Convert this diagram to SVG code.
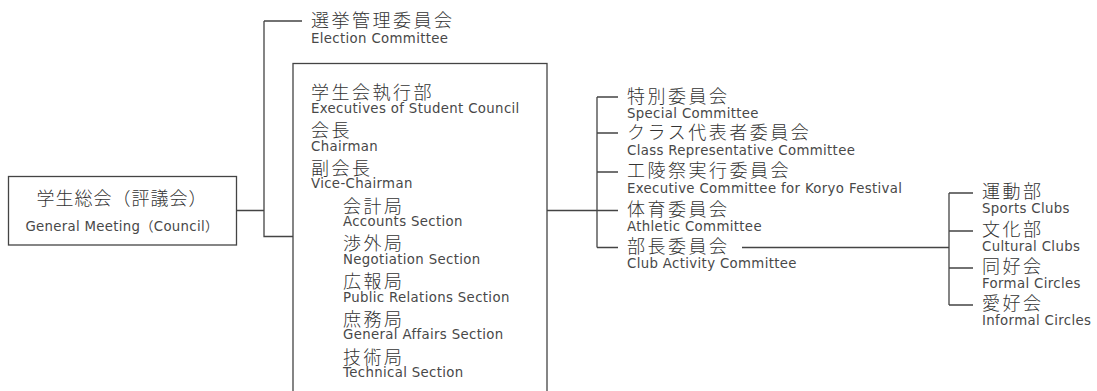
<svg xmlns="http://www.w3.org/2000/svg" width="1097" height="391" viewBox="0 0 1097 391">
<style>
.ln{fill:none;stroke:#444;stroke-width:1.3}
.jp{font-family:"Noto Sans CJK JP","Liberation Sans",sans-serif;font-size:18px;font-weight:300;fill:#333;letter-spacing:2.5px}
.en{font-family:"DejaVu Sans","Noto Sans CJK JP",sans-serif;font-size:13.3px;fill:#484848;letter-spacing:0.35px}
.box{fill:#fff;stroke:#444;stroke-width:1.3}
</style>
<rect width="1097" height="391" fill="#fff"/>
<g id="connectors" class="ln">
<path d="M236 210.5H264M264 21V236.5H293M302 21H264"/>
<path d="M547 210.5H597M597 97V247.5M597 97H618M597 133H618M597 172H618M597 210.5H618M597 247.5H618"/>
<path d="M742 247.5H949M949 193V305M949 193H973M949 231H973M949 268H973M949 305H973"/>
</g>
<g id="general-meeting">
<rect class="box" x="8.5" y="176.5" width="228" height="68.5"/>
<text class="jp" x="122" y="205" text-anchor="middle" style="letter-spacing:1px">学生総会（評議会）</text>
<text class="en" x="122" y="231" text-anchor="middle" style="letter-spacing:0.3px">General Meeting（Council）</text>
</g>
<g id="election-committee">
<text class="jp" x="311" y="27">選挙管理委員会</text>
<text class="en" x="311" y="43">Election Committee</text>
</g>
<g id="executives">
<rect class="box" x="293" y="63.5" width="254" height="340"/>
<text class="jp" x="311" y="99.2">学生会執行部</text>
<text class="en" x="311" y="112.7">Executives of Student Council</text>
<text class="jp" x="311" y="137">会長</text>
<text class="en" x="311" y="150.5">Chairman</text>
<text class="jp" x="311" y="174.7">副会長</text>
<text class="en" x="311" y="188.2">Vice-Chairman</text>
<text class="jp" x="343" y="212.5">会計局</text>
<text class="en" x="343" y="226">Accounts Section</text>
<text class="jp" x="343" y="250.2">渉外局</text>
<text class="en" x="343" y="263.7">Negotiation Section</text>
<text class="jp" x="343" y="288">広報局</text>
<text class="en" x="343" y="301.5">Public Relations Section</text>
<text class="jp" x="343" y="325.7">庶務局</text>
<text class="en" x="343" y="339.2">General Affairs Section</text>
<text class="jp" x="343" y="363.5">技術局</text>
<text class="en" x="343" y="377">Technical Section</text>
</g>
<g id="special-committee">
<text class="jp" x="627" y="102.5">特別委員会</text>
<text class="en" x="627" y="118">Special Committee</text>
</g>
<g id="class-rep-committee">
<text class="jp" x="627" y="139">クラス代表者委員会</text>
<text class="en" x="627" y="155">Class Representative Committee</text>
</g>
<g id="festival-committee">
<text class="jp" x="627" y="177">工陵祭実行委員会</text>
<text class="en" x="627" y="192.5">Executive Committee for Koryo Festival</text>
</g>
<g id="athletic-committee">
<text class="jp" x="627" y="215.5">体育委員会</text>
<text class="en" x="627" y="230.5">Athletic Committee</text>
</g>
<g id="club-activity-committee">
<text class="jp" x="627" y="252.5">部長委員会</text>
<text class="en" x="627" y="268">Club Activity Committee</text>
</g>
<g id="sports-clubs">
<text class="jp" x="982" y="198">運動部</text>
<text class="en" x="982" y="212.5">Sports Clubs</text>
</g>
<g id="cultural-clubs">
<text class="jp" x="982" y="236">文化部</text>
<text class="en" x="982" y="250.5">Cultural Clubs</text>
</g>
<g id="formal-circles">
<text class="jp" x="982" y="273">同好会</text>
<text class="en" x="982" y="287.5">Formal Circles</text>
</g>
<g id="informal-circles">
<text class="jp" x="982" y="310">愛好会</text>
<text class="en" x="982" y="324.5">Informal Circles</text>
</g>
</svg>
